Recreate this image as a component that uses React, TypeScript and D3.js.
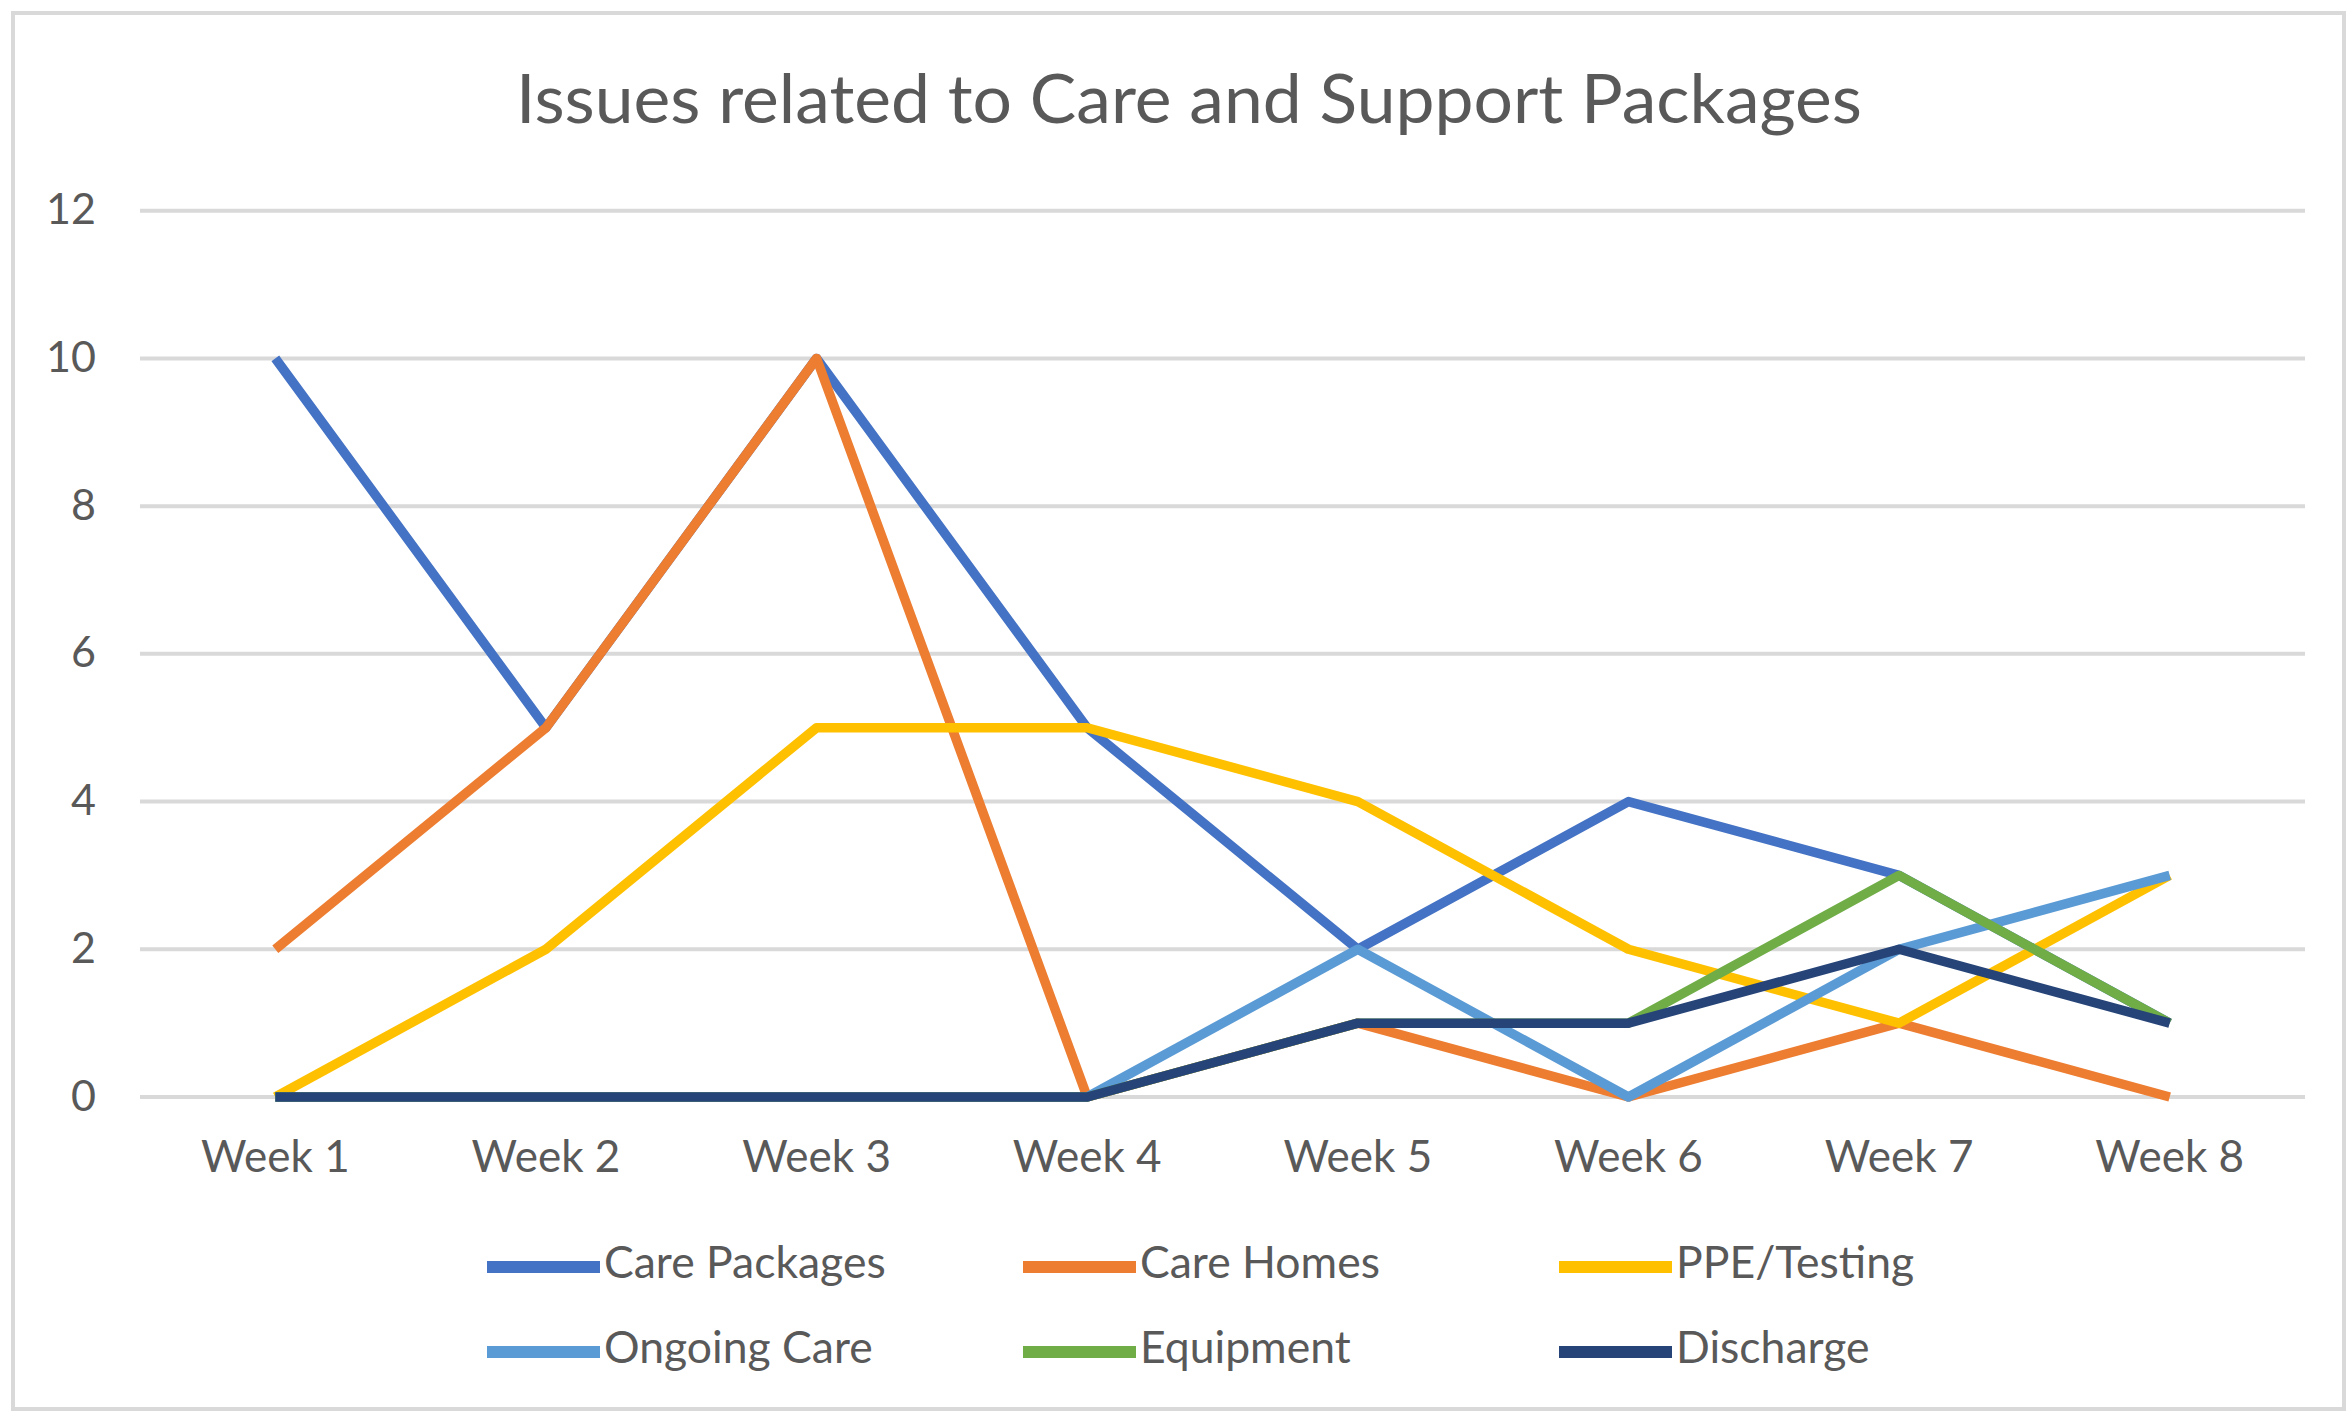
import React from "react";
import * as d3 from "d3";

const weeks = ["Week 1", "Week 2", "Week 3", "Week 4", "Week 5", "Week 6", "Week 7", "Week 8"];
const yTicks = [0, 2, 4, 6, 8, 10, 12];

const carePackages = [10, 5, 10, 5, 2, 4, 3, 1];
const careHomes = [2, 5, 10, 0, 1, 0, 1, 0];
const ppeTesting = [0, 2, 5, 5, 4, 2, 1, 3];
const ongoingCare = [0, 0, 0, 0, 2, 0, 2, 3];
const equipment = [0, 0, 0, 0, 1, 1, 3, 1];
const discharge = [0, 0, 0, 0, 1, 1, 2, 1];

const seriesNames = ["Care Packages", "Care Homes", "PPE/Testing", "Ongoing Care", "Equipment", "Discharge"];
const seriesColors = ["#4472C4", "#ED7D31", "#FFC000", "#5B9BD5", "#70AD47", "#264478"];
const seriesValues = [carePackages, careHomes, ppeTesting, ongoingCare, equipment, discharge];

const title = "Issues related to Care and Support Packages";

const W = 2352;
const H = 1416;
const textColor = "#595959";
const gridColor = "#d9d9d9";
const font = "Lato, 'Open Sans', sans-serif";

export default function App() {
  const x = d3.scalePoint<string>().domain(weeks).range([140, 2305]).padding(0.5);
  const y = d3.scaleLinear().domain([0, 12]).range([1097, 210.7]);

  const line = d3
    .line<number>()
    .x((_, i) => x(weeks[i]) as number)
    .y((d) => y(d));

  const legendX = d3.scaleLinear().domain([0, 1]).range([487, 1023]);
  const legendY = d3.scaleLinear().domain([0, 1]).range([1267, 1352]);

  return (
    <svg
      width={W}
      height={H}
      viewBox={`0 0 ${W} ${H}`}
      style={{ position: "absolute", left: 0, top: 0, background: "#fff" }}
    >
      <rect x={0} y={0} width={W} height={H} fill="#fff" />
      <rect x={13} y={13} width={2331} height={1396} fill="#fff" stroke={gridColor} strokeWidth={4} />

      <text
        x={1189}
        y={123}
        textAnchor="middle"
        fontFamily={font}
        fontSize={67}
        fill={textColor}
        textLength={1346}
        lengthAdjust="spacingAndGlyphs"
      >
        {title}
      </text>

      {yTicks.map((t) => (
        <g key={t}>
          <line x1={140} x2={2305} y1={y(t)} y2={y(t)} stroke={gridColor} strokeWidth={4} />
          <text
            x={96}
            y={y(t) + 13.5}
            textAnchor="end"
            fontFamily={font}
            fontSize={43}
            fill={textColor}
          >
            {t}
          </text>
        </g>
      ))}

      {weeks.map((w) => (
        <text
          key={w}
          x={x(w)}
          y={1172}
          textAnchor="middle"
          fontFamily={font}
          fontSize={44}
          fill={textColor}
        >
          {w}
        </text>
      ))}

      {seriesValues.map((vals, i) => (
        <path
          key={seriesNames[i]}
          d={line(vals) || ""}
          fill="none"
          stroke={seriesColors[i]}
          strokeWidth={9.5}
          strokeLinejoin="round"
          strokeLinecap="butt"
        />
      ))}

      {seriesNames.map((name, i) => {
        const col = i % 3;
        const row = Math.floor(i / 3);
        const lx = legendX(col);
        const ly = legendY(row);
        return (
          <g key={name}>
            <line x1={lx} x2={lx + 113} y1={ly} y2={ly} stroke={seriesColors[i]} strokeWidth={12} />
            <text
              x={lx + 117}
              y={ly + 11}
              fontFamily={font}
              fontSize={44.5}
              fill={textColor}
            >
              {name}
            </text>
          </g>
        );
      })}
    </svg>
  );
}
